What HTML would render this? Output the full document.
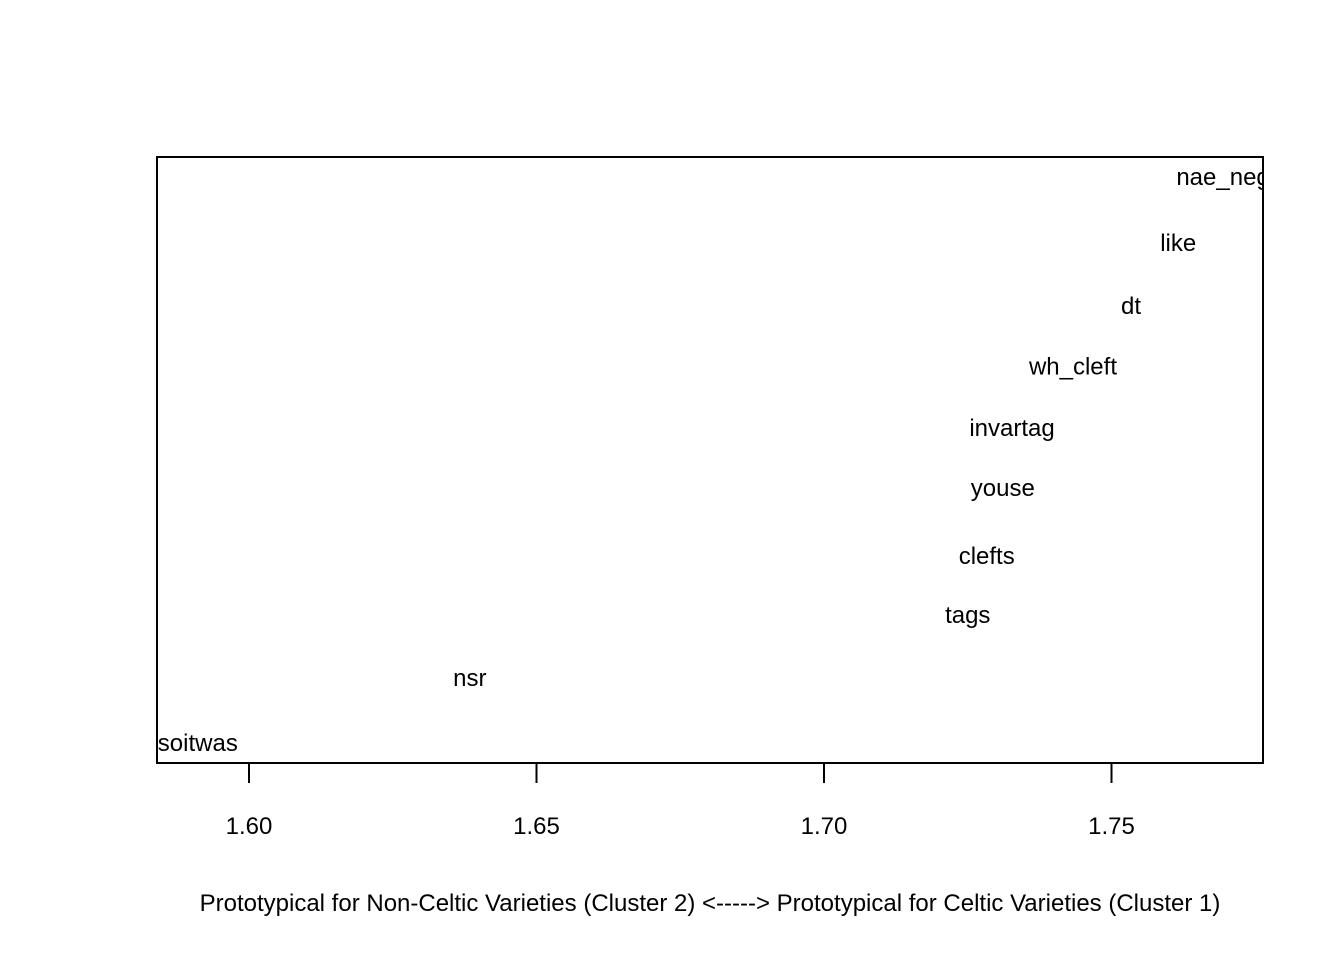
<!DOCTYPE html>
<html><head><meta charset="utf-8"><style>
html,body{margin:0;padding:0;background:#fff;}
svg{display:block;font-family:"Liberation Sans",Arial,sans-serif;}
</style></head><body>
<svg id="chart" width="1344" height="960" viewBox="0 0 1344 960" xmlns="http://www.w3.org/2000/svg">
<defs><clipPath id="plotclip"><rect x="157" y="157" width="1106" height="606"/></clipPath></defs>
<rect width="1344" height="960" fill="#fff"/>
<g id="labels" clip-path="url(#plotclip)"></g>
<rect x="157" y="157" width="1106" height="606" fill="none" stroke="#000" stroke-width="2"/>
<g id="xaxis"></g>
<text x="710" y="911" font-size="24" text-anchor="middle" fill="#000">Prototypical for Non-Celtic Varieties (Cluster 2) &lt;-----&gt; Prototypical for Celtic Varieties (Cluster 1)</text>
</svg>
<script>
const features = ["soitwas","nsr","tags","clefts","youse","invartag","wh_cleft","dt","like","nae_neg"];
const xValues = [1.5911,1.6384,1.7250,1.7283,1.7311,1.7327,1.7433,1.7534,1.7616,1.7694];
const yValues = [0.96,2.00,3.01,3.96,5.05,6.01,7.00,7.97,8.98,10.04];
const xTicks = [1.60,1.65,1.70,1.75];
const xTickLabels = ["1.60","1.65","1.70","1.75"];

const NS = "http://www.w3.org/2000/svg";
function xScale(v){ return 249 + (v - 1.6) * 5750; }
function yScale(v){ return 763 - (v - 0.64) * 62.35; }

const lab = document.getElementById('labels');
features.forEach((f,i)=>{
  const t = document.createElementNS(NS,'text');
  t.setAttribute('x', xScale(xValues[i]));
  t.setAttribute('y', yScale(yValues[i]) + 8);
  t.setAttribute('font-size','24');
  t.setAttribute('text-anchor','middle');
  t.setAttribute('fill','#000');
  t.textContent = f;
  
  
  lab.appendChild(t);
});

const ax = document.getElementById('xaxis');
xTicks.forEach((v,i)=>{
  const l = document.createElementNS(NS,'line');
  l.setAttribute('x1', xScale(v)); l.setAttribute('x2', xScale(v));
  l.setAttribute('y1', 763); l.setAttribute('y2', 783);
  l.setAttribute('stroke','#000'); l.setAttribute('stroke-width','2');
  
  
  ax.appendChild(l);
  const t = document.createElementNS(NS,'text');
  t.setAttribute('x', xScale(v)); t.setAttribute('y', 834);
  t.setAttribute('font-size','24'); t.setAttribute('text-anchor','middle');
  t.textContent = xTickLabels[i];
  
  
  ax.appendChild(t);
});
</script>
</body></html>
